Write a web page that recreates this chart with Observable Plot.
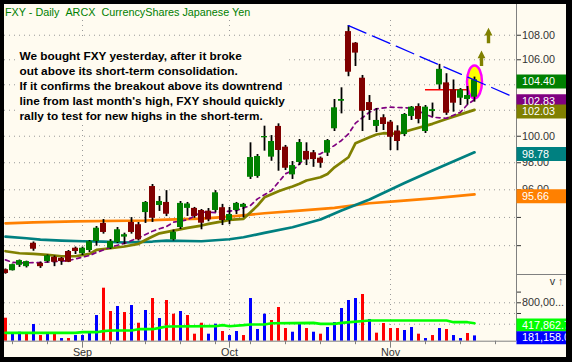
<!DOCTYPE html>
<html><head><meta charset="utf-8">
<script src="https://cdn.jsdelivr.net/npm/d3@7"></script>
<script src="https://cdn.jsdelivr.net/npm/@observablehq/plot@0.6"></script>
<style>
html,body{margin:0;padding:0;background:#000;}
#frame{position:relative;width:572px;height:362px;background:#000;overflow:hidden;}
#panel{position:absolute;left:4px;top:4px;width:562px;height:353px;background:#fffbf0;overflow:hidden;}
#price{position:absolute;left:0;top:0;}
#vol{position:absolute;left:0;top:270px;}
svg{display:block;}
</style></head>
<body><div id="frame"><div id="panel"><div id="price"></div><div id="vol"></div></div></div>
<script>
const title = "FXY - Daily\u00a0\u00a0ARCX\u00a0\u00a0CurrencyShares Japanese Yen";
const note = "We bought FXY yesterday, after it broke\nout above its short-term consolidation.\nIf it confirms the breakout above its downtrend\nline from last month's high, FXY should quickly\nrally to test for new highs in the short-term.";

// trading days Aug 15 2008 .. Nov 19 2008 (index 0..67)
const monthLabels = ["Sep", "Oct", "Nov"];
const monthIdx = [11, 32, 55];
const weekIdx = [1, 6, 11, 15, 20, 25, 30, 35, 40, 45, 50, 55, 60, 65, 70];
const priceTicks = [92, 94, 96, 98, 100, 102, 104, 106, 108];
const hiddenPriceLabels = [102, 104]; // fully covered by the last-value boxes
const volTicks = [400000, 600000, 800000, 1000000];
const volGrid = [400000, 600000, 800000];

const open  = [90.33,90.26,90.63,90.54,92.17,90.77,90.89,91.19,91.12,91.59,91.82,91.43,91.66,92.29,93.57,91.82,92.22,92.60,93.64,93.48,
               94.35,96.24,94.86,95.08,92.41,93.28,94.65,94.65,94.50,94.45,94.50,94.70,93.78,94.50,94.72,96.92,96.98,99.88,98.42,100.75,
               99.17,97.10,98.02,98.85,98.75,98.34,98.72,100.57,102.70,108.30,107.35,104.52,102.60,100.75,101.42,101.08,100.40,100.13,101.52,102.29,
               100.36,101.90,103.99,104.15,103.60,102.94,102.84,103.02];
const high  = [90.38,90.72,91.00,90.92,92.26,90.86,91.35,91.28,91.17,91.66,91.90,91.90,92.36,93.35,93.85,92.43,93.28,92.88,93.99,93.64,
               95.15,96.39,95.51,95.94,93.10,95.15,95.08,94.72,94.57,94.64,95.94,94.94,94.72,95.08,95.01,99.50,98.62,100.77,100.05,100.95,
               99.30,98.09,99.75,99.50,98.92,98.43,99.75,102.84,103.76,108.80,107.40,104.74,103.15,102.14,101.65,101.21,100.80,101.75,102.29,102.50,
               102.37,102.56,105.63,104.88,104.38,103.70,103.86,104.61];
const low   = [90.02,90.24,90.49,90.45,91.61,90.42,90.79,90.54,90.63,90.82,91.38,91.31,91.52,91.96,92.81,91.73,92.15,92.06,92.81,92.33,
               93.57,93.64,94.43,94.06,92.33,93.14,94.07,93.94,93.12,93.69,94.35,93.42,93.48,94.21,93.97,96.76,96.85,98.87,98.11,97.37,
               97.42,96.76,97.79,97.79,97.66,97.59,98.47,100.36,101.72,104.64,105.46,100.36,101.21,100.28,100.44,98.92,98.90,99.98,101.21,100.95,
               100.21,101.46,103.62,101.60,101.85,102.37,102.42,102.63];
const close = [90.07,90.68,90.96,90.89,91.75,90.54,91.29,90.84,90.89,90.84,91.59,91.82,92.28,93.23,92.93,92.29,93.12,92.77,92.93,92.41,
               95.08,93.94,95.15,94.23,92.95,95.01,94.97,94.07,93.59,93.83,95.78,93.78,94.21,95.01,94.94,98.39,98.47,99.98,99.60,98.92,
               97.59,97.79,99.52,98.21,98.24,97.96,99.67,102.19,102.84,105.00,106.54,101.92,101.98,101.21,100.90,99.92,99.60,101.67,102.24,101.29,
               102.24,102.05,105.23,101.77,102.55,103.60,103.15,104.40];
const volume = [512000,232000,250000,232000,394000,188000,207000,226000,132000,132000,188000,188000,263000,562000,1073000,637000,731000,618000,749000,418000,
                656000,880000,506000,843000,587000,637000,562000,213000,418000,213000,400000,263000,188000,263000,188000,880000,301000,587000,469000,712000,
                319000,250000,394000,319000,250000,213000,338000,431000,693000,843000,880000,955000,488000,232000,413000,319000,319000,282000,338000,213000,
                132000,188000,319000,301000,188000,132000,226000,181158];

// moving averages: [day index, value]
const ma10 = [[0,91.01],[1,90.84],[2,90.80],[5,90.82],[7,90.89],[9,90.96],[10,91.08],[12,91.31],[13,91.52],[15,91.89],[17,92.17],[18,92.36],[19,92.55],[21,93.02],[22,93.19],[23,93.35],[24,93.66],[26,93.83],[28,94.38],[30,94.35],[33,94.50],[35,94.86],[36,95.34],[38,95.94],[39,96.56],[40,97.18],[41,97.42],[42,97.92],[43,98.47],[45,98.67],[47,99.30],[48,99.68],[49,100.18],[50,101.0],[52,101.85],[53,102.11],[55,102.24],[58,102.17],[60,101.69],[61,101.46],[63,101.38],[65,101.85],[66,102.45],[67,102.83]];
const ma20 = [[0,91.61],[1,91.54],[2,91.47],[4,91.43],[6,91.36],[8,91.26],[10,91.26],[12,91.43],[13,91.70],[15,91.82],[17,91.94],[19,92.12],[20,92.40],[21,92.64],[22,92.87],[24,93.06],[26,93.25],[28,93.42],[29,93.54],[31,93.72],[32,93.82],[34,93.90],[35,94.37],[36,94.85],[37,95.45],[39,95.89],[40,96.07],[41,96.24],[42,96.44],[43,96.68],[45,96.92],[46,97.17],[47,97.66],[49,98.41],[50,99.47],[52,99.92],[53,100.13],[54,100.23],[56,100.18],[58,100.49],[61,100.95],[63,101.33],[67,102.03]];
const ma50 = [[0,92.64],[3,92.52],[5,92.43],[8,92.36],[11,92.31],[14,92.29],[17,92.22],[21,92.29],[23,92.36],[28,92.31],[32,92.45],[34,92.59],[37,92.90],[41,93.30],[45,93.85],[48,94.50],[52,95.30],[57,96.50],[61,97.42],[67,98.78]];
const ma200 = [[0,93.58],[4,93.65],[10,93.72],[20,93.78],[23,93.85],[28,93.92],[32,94.06],[37,94.30],[42,94.49],[47,94.69],[52,95.02],[56,95.17],[61,95.38],[67,95.66]];
const volMA = [[0,239000],[10,239000],[11,250000],[13,250000],[14,269000],[15,282000],[18,282000],[19,306000],[21,306000],[22,332000],[23,357000],[30,362000],[31,381000],[32,362000],[34,381000],[35,394000],[37,394000],[38,418000],[44,426000],[45,407000],[47,407000],[48,426000],[52,469000],[63,469000],[64,437000],[66,437000],[67,417862.7]];

const trendLine = [[49,108.8],[72.1,103.15]];
const breakoutLevel = [{x1: 60, x2: 68, y: 103.6}];
const highlight = [{i: 67, p: 104.23}];
const arrows = [{i: 68, p: 106.75}, {i: 69, p: 108.61}];

const priceLabels = [
  {v: 104.40, text: "104.40", fill: "#008000"},
  {v: 102.83, text: "102.83", fill: "#800080"},
  {v: 102.03, text: "102.03", fill: "#808000"},
  {v: 98.78,  text: "98.78",  fill: "#008080"},
  {v: 95.66,  text: "95.66",  fill: "#ff8000"}
];
const volLabels = [
  {v: 417862.7, text: "417,862.7", fill: "#00ff00"},
  {v: 181158.0, text: "181,158.0", fill: "#0000ff"}
];

const FONT = '"Liberation Sans", Arial, sans-serif';
const BG = "#fffbf0";
const GRID = "#9a9a9a";
const AXIS = "#808080";
const X0 = -1/7, X1 = 73;

const rows = d3.range(open.length).map(i => ({
  i, o: open[i], h: high[i], l: low[i], c: close[i], v: volume[i],
  up: i > 0 ? close[i] >= close[i-1] : false
}));

const ellipseSym = {draw(ctx) {
  const rx = 7.5, ry = 16.3, k = 0.5523;
  ctx.moveTo(rx, 0);
  ctx.bezierCurveTo(rx, ry*k, rx*k, ry, 0, ry);
  ctx.bezierCurveTo(-rx*k, ry, -rx, ry*k, -rx, 0);
  ctx.bezierCurveTo(-rx, -ry*k, -rx*k, -ry, 0, -ry);
  ctx.bezierCurveTo(rx*k, -ry, rx, -ry*k, rx, 0);
  ctx.closePath();
}};
const arrowSym = {draw(ctx) {
  ctx.moveTo(0, 0); ctx.lineTo(3.9, 7.7); ctx.lineTo(1.7, 7.7); ctx.lineTo(1.7, 15.4);
  ctx.lineTo(-1.7, 15.4); ctx.lineTo(-1.7, 7.7); ctx.lineTo(-3.9, 7.7); ctx.closePath();
}};

const price = Plot.plot({
  width: 562, height: 270, marginLeft: 0, marginRight: 50, marginTop: 0, marginBottom: 0,
  style: {background: "transparent", color: "#333", fontFamily: FONT, fontSize: "10.8px"},
  x: {domain: [X0, X1], axis: null},
  y: {type: "log", domain: [90, 110.56], axis: null},
  color: {type: "identity"},
  marks: [
    Plot.ruleY(priceTicks, {stroke: GRID, strokeDasharray: "1,4"}),
    Plot.ruleX(monthIdx, {y1: 109.22, y2: 90, stroke: GRID, strokeDasharray: "1,4"}),
    Plot.rect([0], {x1: 1.714, x2: 40.43, y1: 107.81, y2: 100.98, fill: BG}),
    Plot.text([title], {frameAnchor: "top-left", dx: 0.5, dy: 4.3, lineAnchor: "top", textAnchor: "start", fill: "#008000", fontSize: 10.8}),
    Plot.text([note], {frameAnchor: "top-left", dx: 15, dy: 45, lineAnchor: "top", textAnchor: "start", lineHeight: 1.26, fill: "#000", fontSize: 11.8, fontWeight: "bold"}),
    Plot.line(ma200, {x: d => d[0], y: d => d[1], stroke: "#ff8000", strokeWidth: 2.7}),
    Plot.line(ma50, {x: d => d[0], y: d => d[1], stroke: "#008080", strokeWidth: 2.7}),
    Plot.line(ma20, {x: d => d[0], y: d => d[1], stroke: "#808000", strokeWidth: 2.7}),
    Plot.line(ma10, {x: d => d[0], y: d => d[1], stroke: "#800080", strokeWidth: 1.7, strokeDasharray: "4,4"}),
    Plot.ruleY(breakoutLevel, {x1: "x1", x2: "x2", y: "y", stroke: "#ff0000", strokeWidth: 1.5}),
    Plot.dot(highlight, {x: "i", y: "p", symbol: ellipseSym, fill: "#ffff00", stroke: "#ff00ff", strokeWidth: 2.5}),
    Plot.ruleX(rows, {x: "i", y1: "l", y2: "h", stroke: "#000", strokeWidth: 1.8}),
    Plot.rect(rows, {x1: d => d.i - 3/7, x2: d => d.i + 3/7, y1: "o", y2: "c", fill: d => d.c >= d.o ? "#008000" : "#800000"}),
    Plot.line(trendLine, {x: d => d[0], y: d => d[1], stroke: "#0000ff", strokeWidth: 1.3, strokeDasharray: "19,7"}),
    Plot.dot(arrows, {x: "i", y: "p", symbol: arrowSym, fill: "#808000", stroke: null}),
    Plot.ruleX([X1], {stroke: AXIS}),
    Plot.axisY(priceTicks, {anchor: "right", tickSize: 4, tickPadding: 1.5, tickFormat: d => hiddenPriceLabels.includes(d) ? "" : d.toFixed(2), color: "#333", fontSize: 10.8}),
    Plot.ruleY(priceLabels, {y: "v", x1: X1 + 0.07, x2: X1 + 12, stroke: "fill", strokeWidth: 14, dy: 1.7}),
    Plot.text(priceLabels, {x: X1, y: "v", dx: 5.5, dy: 1.7, text: "text", fill: "#ffffff", textAnchor: "start", fontSize: 10.8})
  ]
});
document.getElementById("price").appendChild(price);

const vol = Plot.plot({
  width: 562, height: 83, marginLeft: 0, marginRight: 50, marginTop: 0, marginBottom: 16.3,
  style: {background: "transparent", color: "#333", fontFamily: FONT, fontSize: "10.8px"},
  x: {domain: [X0, X1], axis: null},
  y: {domain: [82000, 1329000], axis: null},
  color: {type: "identity"},
  marks: [
    Plot.ruleX(monthIdx, {stroke: GRID, strokeDasharray: "1,4"}),
    Plot.ruleY(volGrid, {stroke: GRID, strokeDasharray: "1,4"}),
    Plot.rect(rows, {x1: d => d.i - 1/7, x2: d => d.i + 2/7, y1: 82000, y2: "v", fill: d => d.up ? "#0000ff" : "#ff0000"}),
    Plot.line(volMA, {x: d => d[0], y: d => d[1], stroke: "#00ff00", strokeWidth: 2.7}),
    Plot.ruleY([82000], {stroke: AXIS}),
    Plot.ruleX([X1], {stroke: AXIS}),
    Plot.ruleY([1329000], {x1: X1, x2: X1 + 12, stroke: AXIS}),
    Plot.axisY(volTicks, {anchor: "right", tickSize: 4, tickPadding: 1.5, tickFormat: d => d === 800000 ? "800,00..." : "", color: "#333", fontSize: 10.8}),
    Plot.axisX(weekIdx, {tickSize: 3.5, tickFormat: () => "", stroke: AXIS}),
    Plot.axisX(monthIdx, {tickSize: 7, tickFormat: () => "", stroke: AXIS}),
    Plot.text(monthIdx, {x: d => d, text: (d, k) => monthLabels[k], frameAnchor: "bottom", lineAnchor: "top", dy: 7.4, fill: "#333", fontSize: 10.8}),
    Plot.ruleY(volLabels, {y: "v", x1: X1 + 0.07, x2: X1 + 12, stroke: "fill", strokeWidth: 13, dy: 1.8}),
    Plot.text(volLabels, {x: X1, y: "v", dx: 5.5, dy: 1.8, text: "text", fill: "#ffffff", textAnchor: "start", fontSize: 10.8})
  ]
});
document.getElementById("vol").appendChild(vol);
</script></body></html>
